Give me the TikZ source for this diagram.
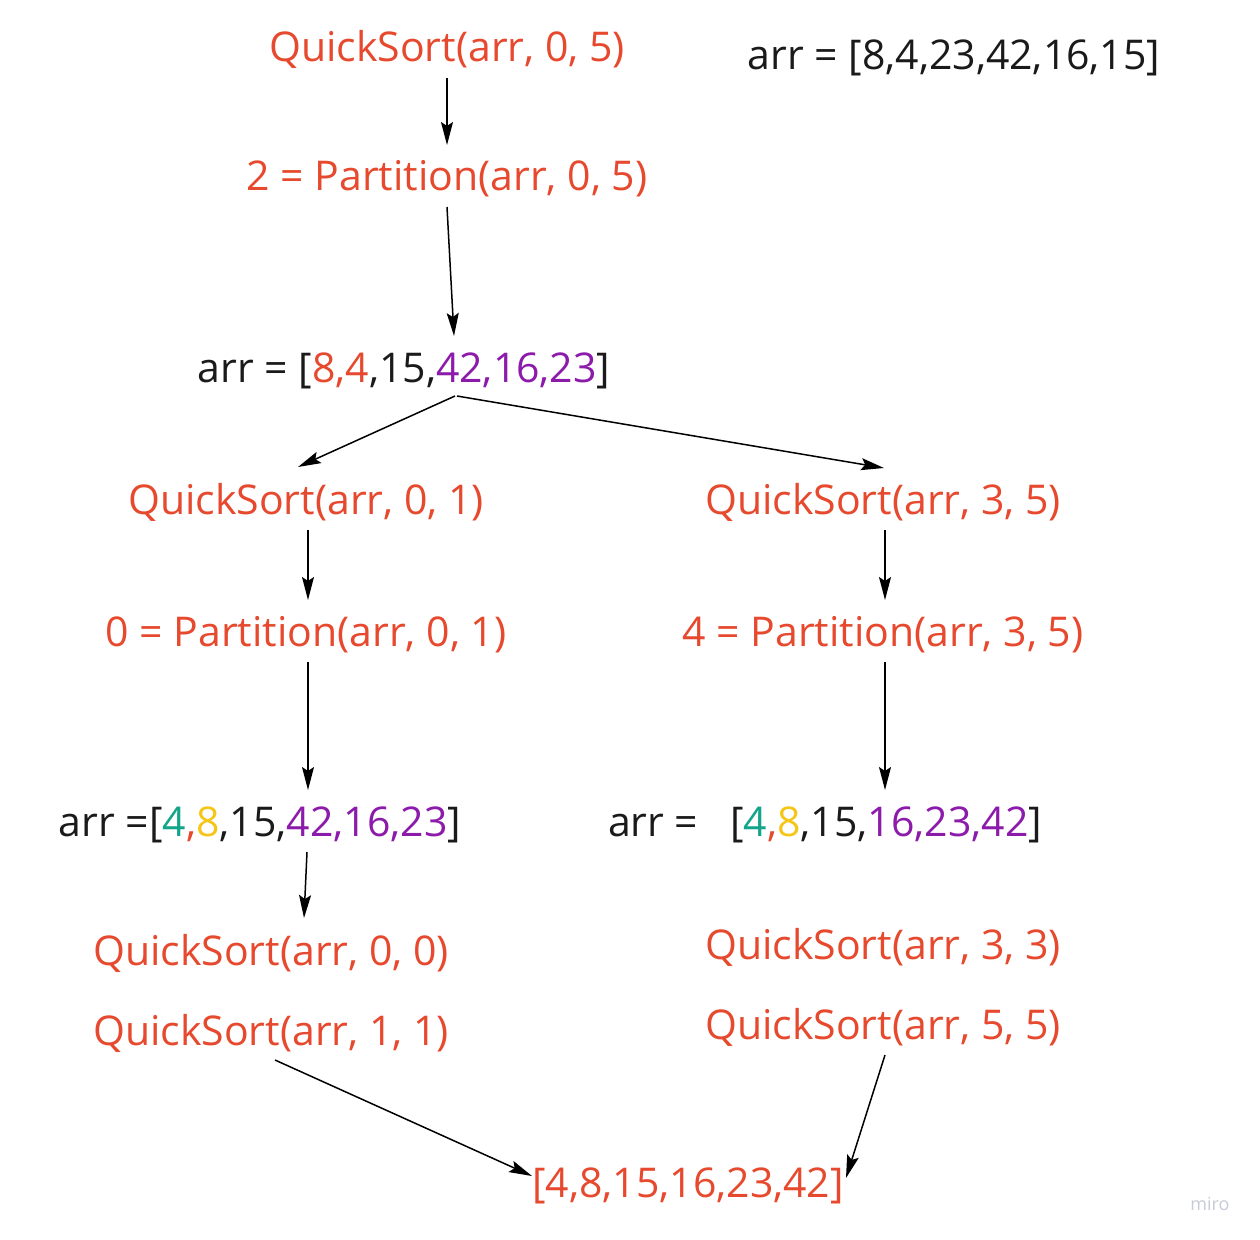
\documentclass[tikz,border=0pt]{standalone}
\usepackage{fontspec}
\setmainfont{Open Sans}
\usetikzlibrary{arrows.meta}
\definecolor{qred}{HTML}{E6492D}
\definecolor{qpur}{HTML}{8C1AAA}
\definecolor{qteal}{HTML}{12A58A}
\definecolor{qyel}{HTML}{F5C518}
\definecolor{qblk}{HTML}{1A1A1A}
\definecolor{qgray}{HTML}{C8CAD8}
\tikzset{
  lbl/.style={anchor=base, inner sep=0pt, font=\fontsize{41}{48}\selectfont},
  call/.style={lbl, text=qred},
  arrtxt/.style={lbl, text=qblk},
  arr/.style={draw=black, line width=1.5pt, -{Stealth[length=23pt,width=12pt,inset=4pt]}}
}
\begin{document}
\begin{tikzpicture}[x=1pt,y=1pt]
\useasboundingbox (0,0) rectangle (1260,-1239);
\node[call] (qs05) at (447,-62) {QuickSort(arr, 0, 5)};
\node[arrtxt] (arr0) at (954,-70) {arr = [8,4,23,42,16,15]};
\node[call] (p05) at (447,-190) {2 = Partition(arr, 0, 5)};
\node[arrtxt] (arr1) at (404,-382) {arr = [\textcolor{qred}{8,4},15,\textcolor{qpur}{42,16,23}]};
\node[call] (qs01) at (306,-514) {QuickSort(arr, 0, 1)};
\node[call] (qs35) at (883,-514) {QuickSort(arr, 3, 5)};
\node[call] (p01) at (306,-646) {0 = Partition(arr, 0, 1)};
\node[call] (p35) at (883,-646) {4 = Partition(arr, 3, 5)};
\node[arrtxt] (arr2) at (260,-836) {arr =[\textcolor{qteal}{4}\textcolor{qred}{,}\textcolor{qyel}{8},15,\textcolor{qpur}{42,16,23}]};
\node[arrtxt] (arr3) at (825,-836) {arr =\ \ \ [\textcolor{qteal}{4}\textcolor{qred}{,}\textcolor{qyel}{8},15,\textcolor{qpur}{16,23,42}]};
\node[call] (qs00) at (271,-965) {QuickSort(arr, 0, 0)};
\node[call] (qs11) at (271,-1045) {QuickSort(arr, 1, 1)};
\node[call] (qs33) at (883,-959) {QuickSort(arr, 3, 3)};
\node[call] (qs55) at (883,-1039) {QuickSort(arr, 5, 5)};
\node[call] (fin) at (688,-1197) {[4,8,15,16,23,42]};
\node[anchor=base, inner sep=0pt, text=qgray, font=\fontsize{18}{20}\selectfont] (miro) at (1210,-1210) {miro};

\draw[arr] ([yshift=-16pt]qs05.base) -- ([yshift=45pt]p05.base);
\draw[arr] ([yshift=-17pt]p05.base) -- ([xshift=50pt,yshift=46pt]arr1.base);
\draw[arr] ([xshift=51pt,yshift=-14pt]arr1.base) -- ([xshift=-8pt,yshift=47pt]qs01.base);
\draw[arr] ([xshift=53pt,yshift=-14pt]arr1.base) -- ([xshift=1pt,yshift=46pt]qs35.base);
\draw[arr] ([xshift=2pt,yshift=-16pt]qs01.base) -- ([xshift=2pt,yshift=46pt]p01.base);
\draw[arr] ([xshift=2pt,yshift=-16pt]p01.base) -- ([xshift=48pt,yshift=46pt]arr2.base);
\draw[arr] ([xshift=2pt,yshift=-16pt]qs35.base) -- ([xshift=2pt,yshift=46pt]p35.base);
\draw[arr] ([xshift=2pt,yshift=-16pt]p35.base) -- ([xshift=60pt,yshift=46pt]arr3.base);
\draw[arr] ([xshift=47pt,yshift=-16pt]arr2.base) -- ([xshift=33pt,yshift=47pt]qs00.base);
\draw[arr] ([xshift=4pt,yshift=-15pt]qs11.base) -- ([xshift=-156pt,yshift=21pt]fin.base);
\draw[arr] ([xshift=2pt,yshift=-16pt]qs55.base) -- ([xshift=158pt,yshift=19pt]fin.base);
\end{tikzpicture}
\end{document}
